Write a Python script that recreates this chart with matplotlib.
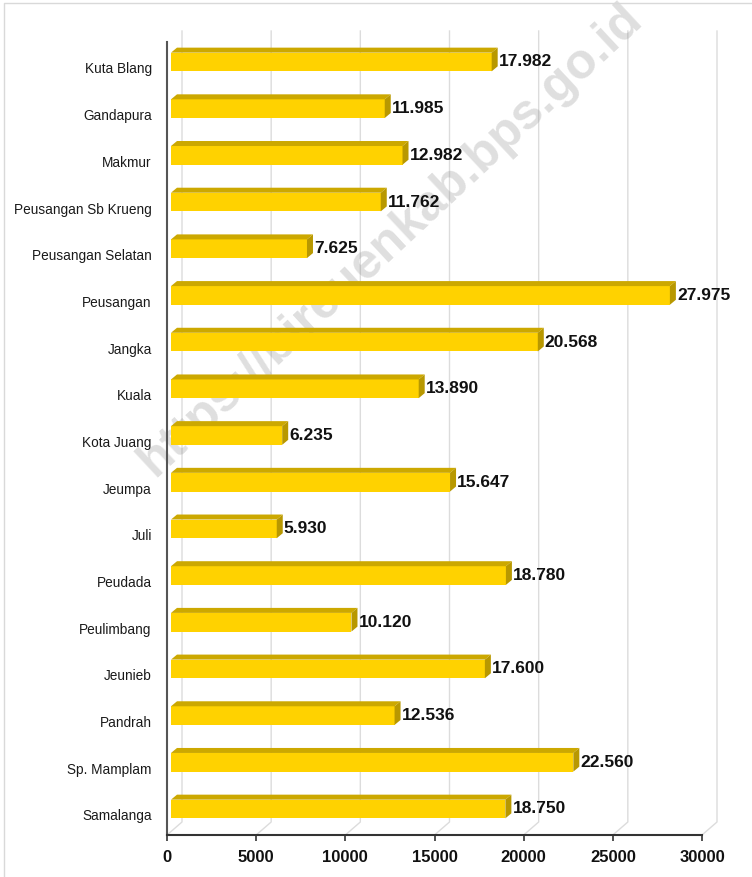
import matplotlib
matplotlib.use("Agg")
import matplotlib.pyplot as plt
from matplotlib.patches import Polygon
from matplotlib.lines import Line2D
import numpy as np

names = ["Kuta Blang", "Gandapura", "Makmur", "Peusangan Sb Krueng", "Peusangan Selatan",
         "Peusangan", "Jangka", "Kuala", "Kota Juang", "Jeumpa", "Juli", "Peudada",
         "Peulimbang", "Jeunieb", "Pandrah", "Sp. Mamplam", "Samalanga"]
values = [17982, 11985, 12982, 11762, 7625, 27975, 20568, 13890, 6235, 15647,
          5930, 18780, 10120, 17600, 12536, 22560, 18750]
xticks = [0, 5000, 10000, 15000, 20000, 25000, 30000]
watermark = "https://bireuenkab.bps.go.id"

sans = ["Liberation Sans", "DejaVu Sans"]
front = "#ffd200"
top_c = "#cca800"
side_c = "#b89800"
grid_c = "#dcdcdc"

W, H = 752, 878
fig = plt.figure(figsize=(W / 100, H / 100), dpi=100)
ax = fig.add_axes([167 / W, 42 / H, 535 / W, 793 / H])
y0, y1 = 16.45, -0.535
ax.set_xlim(0, 30000)
ax.set_ylim(y0, y1)

# pixel -> data units
ux = 30000 / 535
uy = (y0 - y1) / 793

bx, by = 4 * ux, 5 * uy      # bar shift into depth
dx, dy = 6 * ux, 5 * uy      # bar depth
gx, gy = 15 * ux, 13 * uy    # back wall depth
h = 0.4

# back wall grid
for t in xticks:
    ax.plot([t, t + gx, t + gx], [y0, y0 - gy, y1 - 11 * uy], color=grid_c, lw=1,
            clip_on=False, zorder=0)

# watermark, behind the bars
ax.text(390 / W, 1 - 240 / H, watermark, transform=fig.transFigure, rotation=43,
        ha="center", va="center", fontsize=36, fontweight="bold", family=sans,
        color="#808080", alpha=0.25, zorder=1, clip_on=False)

ypos = np.arange(len(names))
ax.barh(ypos - by, values, height=h, left=bx, color=front, zorder=3)

for y, v in zip(ypos, values):
    yt = y - by - h / 2
    yb = yt + h
    ax.add_patch(Polygon([(bx, yt), (bx + v, yt), (bx + v + dx, yt - dy), (bx + dx, yt - dy)],
                         closed=True, facecolor=top_c, edgecolor="none", zorder=3, clip_on=False))
    ax.add_patch(Polygon([(bx + v, yt), (bx + v + dx, yt - dy), (bx + v + dx, yb - dy), (bx + v, yb)],
                         closed=True, facecolor=side_c, edgecolor="none", zorder=3, clip_on=False))
    ax.text(bx + v + dx + 1 * ux, y - 6 * uy, f"{v:,}".replace(",", "."), ha="left", va="center",
            fontsize=12.5, fontweight="bold", family=sans, color="#111111", zorder=4, clip_on=False)

ax.set_yticks(ypos)
ax.set_yticklabels(names, family=sans, fontsize=9.8, color="#1a1a1a")
ax.set_xticks(xticks)
ax.set_xticklabels([str(t) for t in xticks], fontsize=12, fontweight="bold",
                   family=sans, color="#111111")
ax.tick_params(axis="y", length=0, pad=11)
ax.tick_params(axis="x", length=4, width=1.2, color="#333333", pad=6)

for s in ["top", "right"]:
    ax.spines[s].set_visible(False)
ax.spines["left"].set_color("#555555")
ax.spines["left"].set_linewidth(1.5)
ax.spines["bottom"].set_color("#333333")
ax.spines["bottom"].set_linewidth(1.5)
ax.patch.set_alpha(0)

# outer frame
fig.add_artist(Line2D([4 / W, 4 / W, 1], [0, 1 - 4 / H, 1 - 4 / H], transform=fig.transFigure,
                      color="#d9d9d9", lw=1))

fig.savefig("out.png", dpi=100)
